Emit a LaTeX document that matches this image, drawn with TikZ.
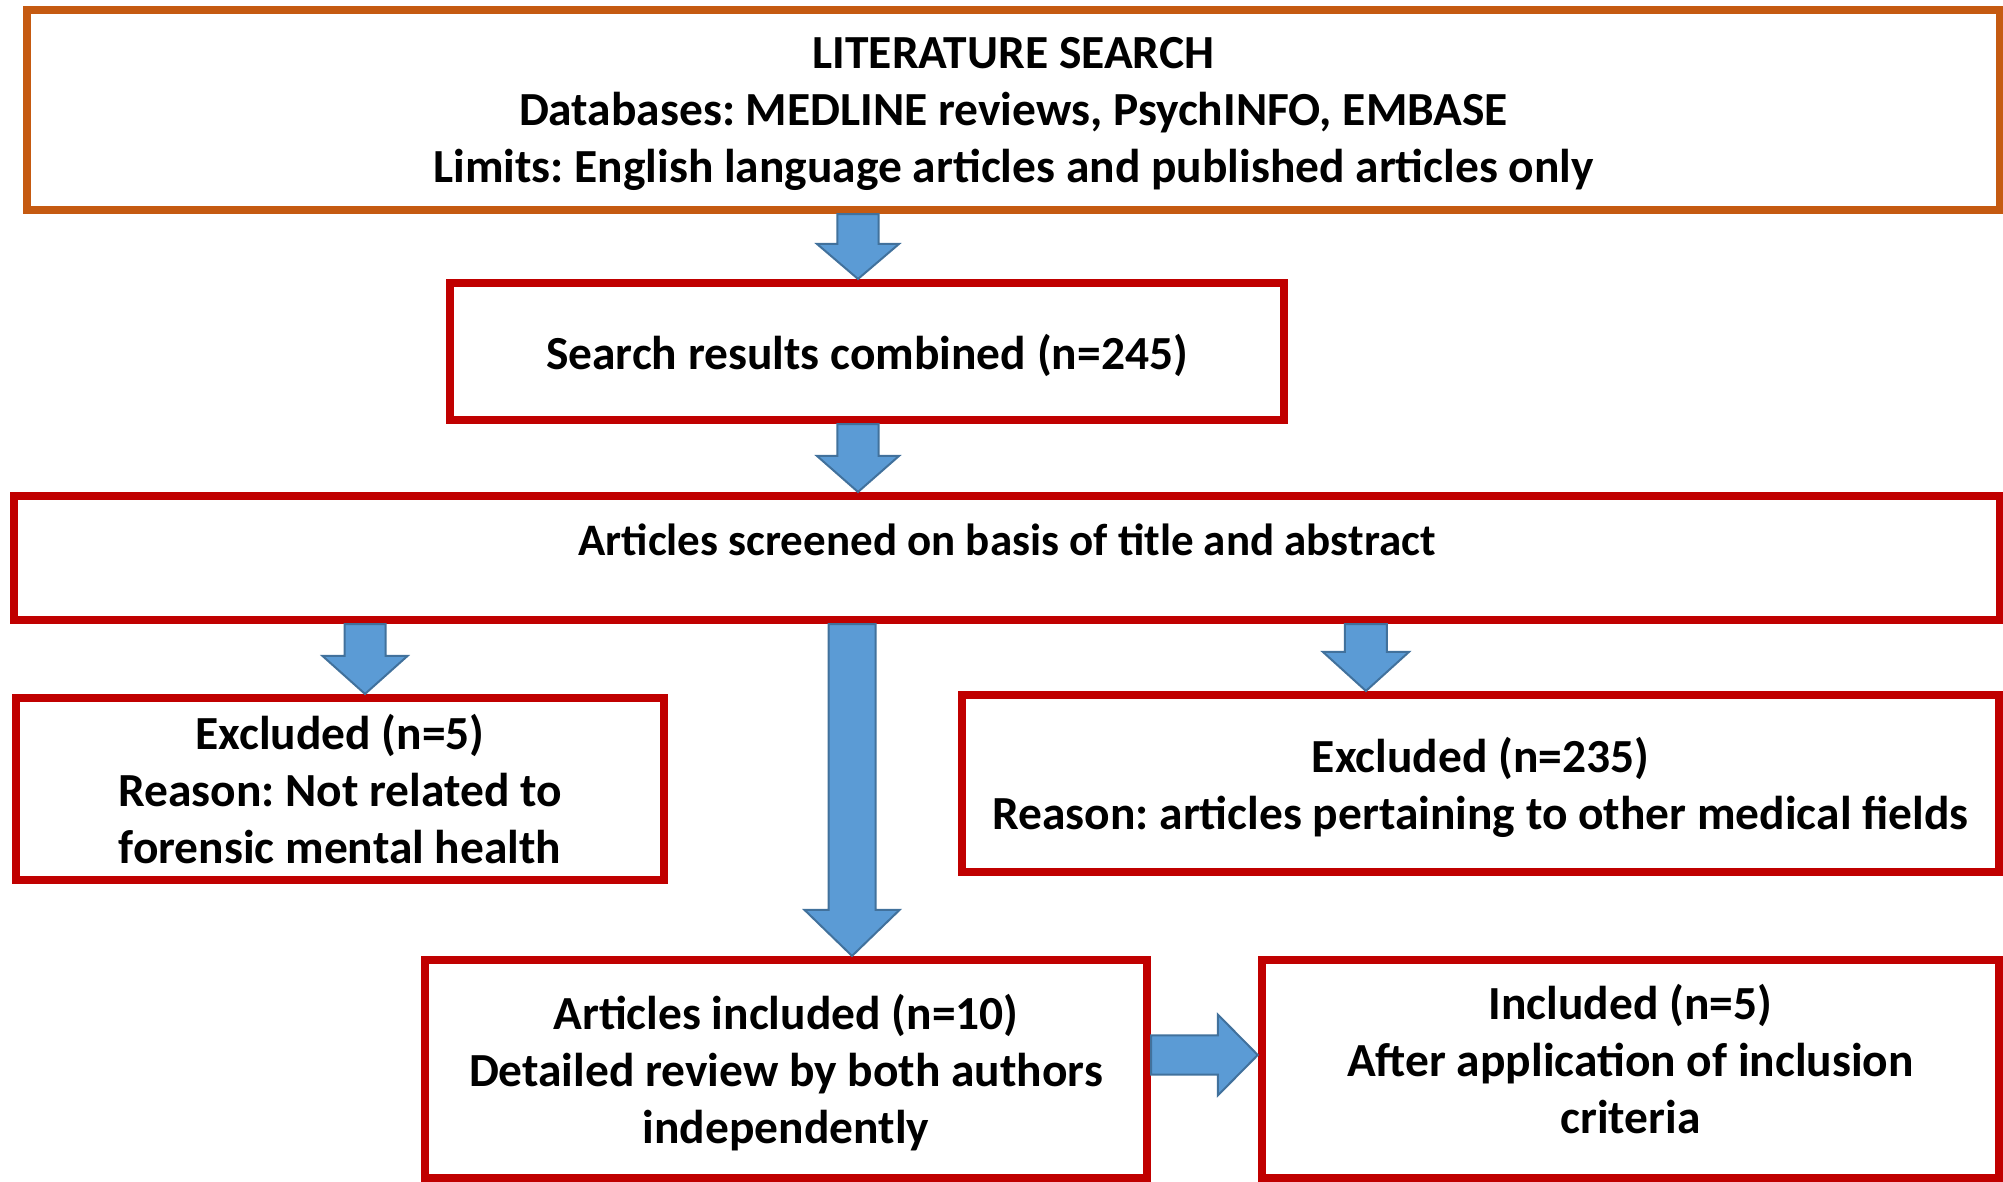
\documentclass[tikz,border=0pt]{standalone}
\usepackage{fontspec}
\setmainfont{Carlito}
\usetikzlibrary{calc}
\frenchspacing

\definecolor{boxred}{HTML}{C00000}
\definecolor{boxorange}{HTML}{C55A11}
\definecolor{arrowblue}{HTML}{5B9BD5}
\definecolor{arrowedge}{HTML}{41719C}

\tikzset{
  flowbox/.style={draw=boxred, line width=0.08cm, fill=white, align=center, inner sep=0pt,
    font=\fontsize{13.5}{16.3}\selectfont\bfseries},
  barrow/.style={fill=arrowblue, draw=arrowedge, line width=0.02cm, line join=miter},
}

% from, to, half shaft, half head, head length
\newcommand{\blockarrow}[5]{%
  \coordinate (ba) at ($(#2)!#5!(#1)$);
  \filldraw[barrow] ($(#1)!#3!90:(#2)$) -- ($(ba)!#3!90:(#2)$) -- ($(ba)!#4!90:(#2)$) -- (#2)
    -- ($(ba)!#4!-90:(#2)$) -- ($(ba)!#3!-90:(#2)$) -- ($(#1)!#3!-90:(#2)$) -- cycle;
}

\begin{document}
\begin{tikzpicture}[x=0.01cm,y=-0.01cm]
            \useasboundingbox (0,0) rectangle (2003,1182);
            \begin{scope}[every node/.style={flowbox}]
                \node[draw=boxorange, minimum width=19.71cm, minimum height=2cm, text depth=0pt] (lit) at (1013.5,110)
                    {LITERATURE SEARCH\\Databases: MEDLINE reviews, PsychINFO, EMBASE\\Limits: English language articles and published articles only};
                \node[minimum width=8.34cm, minimum height=1.37cm, text depth=0pt] (sea) at (867,351.5) {Search results combined (n=245)};
                \node[minimum width=19.84cm, minimum height=1.24cm, text depth=0.36cm,
                    font=\fontsize{12.8}{15.4}\selectfont\bfseries] (scr) at (1007,558) {Articles screened on basis of title and abstract};
                \node[minimum width=6.48cm, minimum height=1.82cm] (exl) at (340,789) {Excluded (n=5)\\Reason: Not related to\\forensic mental health};
                \node[minimum width=10.37cm, minimum height=1.77cm, text depth=0pt] (exr) at (1480.5,783.5) {Excluded (n=235)\\Reason: articles pertaining to other medical fields};
                \node[minimum width=7.22cm, minimum height=2.18cm, text depth=0pt] (inc) at (786,1069) {Articles included (n=10)\\Detailed review by both authors\\independently};
                \node[minimum width=7.37cm, minimum height=2.18cm, text depth=0.2cm] (fin) at (1630.5,1069) {Included (n=5)\\After application of inclusion\\criteria};
            \end{scope}
            \coordinate (t1) at ([xshift=-0.09cm]sea.north);
            \coordinate (f1) at (lit.south -| t1);
            \coordinate (t2) at (t1 |- scr.north);
            \coordinate (f2) at (sea.south -| t2);
            \coordinate (t3) at ([xshift=0.25cm]exl.north);
            \coordinate (f3) at (scr.south -| t3);
            \coordinate (t4) at ([xshift=0.66cm]inc.north);
            \coordinate (f4) at (scr.south -| t4);
            \coordinate (t5) at ([xshift=-1.145cm]exr.north);
            \coordinate (f5) at (scr.south -| t5);
            \coordinate (f6) at ([yshift=0.14cm]inc.east);
            \coordinate (t6) at (fin.west |- f6);
            \blockarrow{f1}{t1}{0.205cm}{0.41cm}{0.35cm}
            \blockarrow{f2}{t2}{0.205cm}{0.41cm}{0.36cm}
            \blockarrow{f3}{t3}{0.205cm}{0.425cm}{0.38cm}
            \blockarrow{f4}{t4}{0.235cm}{0.475cm}{0.46cm}
            \blockarrow{f5}{t5}{0.21cm}{0.43cm}{0.39cm}
            \blockarrow{f6}{t6}{0.195cm}{0.405cm}{0.40cm}
\end{tikzpicture}
\end{document}
